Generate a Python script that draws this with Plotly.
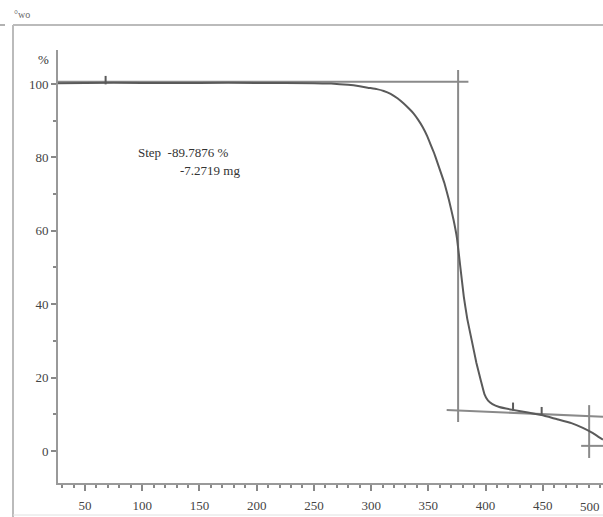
import plotly.graph_objects as go

# ---- data ----
temp_c = [26.4, 50, 100, 150, 200, 250, 265, 280, 290, 297, 305, 311, 317, 323, 328, 333,
          337, 341, 345, 349, 352, 355, 358, 361, 364, 368, 372, 375, 378, 381, 384, 388,
          392, 396, 399, 402, 406, 412, 424, 437, 449, 462, 475, 485, 493, 499, 502.6]
mass_pct = [100.2, 100.3, 100.3, 100.3, 100.3, 100.2, 100.1, 99.8, 99.4, 99.0, 98.6, 98.1,
            97.3, 96.1, 94.8, 93.3, 92.0, 90.3, 88.3, 85.8, 83.5, 81.2, 78.5, 75.8, 73.0,
            68.4, 63.0, 58.0, 50.0, 42.0, 36.0, 30.0, 24.0, 19.0, 15.5, 13.8, 12.8, 12.0,
            11.2, 10.5, 9.8, 8.7, 7.6, 6.3, 5.0, 3.8, 3.1]

# evaluation construction lines (temperature, percent)
upper_line_t = [26.4, 385]
upper_line_v = [100.6, 100.6]
step_line_t = [376, 376]
step_line_v = [103.8, 7.9]
lower_line_t = [366, 502.6]
lower_line_v = [11.2, 9.3]
end_v_t = [490.5, 490.5]
end_v_v = [12.5, -1.9]
end_h_t = [483.5, 502.6]
end_h_v = [1.4, 1.4]

# small marker ticks on the curve
mark_t = [68, 424, 449]
mark_lo = [99.9, 11.0, 9.6]
mark_hi = [102.2, 13.2, 12.0]

x_ticks = [50, 100, 150, 200, 250, 300, 350, 400, 450, 500]
y_ticks = [0, 20, 40, 60, 80, 100]
x_range = [26.4, 502.6]
y_range = [-8.72, 109.26]

step_text = "Step  -89.7876 %"
mass_text = "-7.2719 mg"

# ---- figure ----
W, H = 603, 517
L, R, T, B = 58, 0, 50, 34
pw, ph = W - L - R, H - T - B

def px(x):
    return (x - L) / pw

def py(y):
    return (H - B - y) / ph

fig = go.Figure()
curve_col = "#5a5a5a"
ref_col = "#8a8a8a"

for tx, vy in [(upper_line_t, upper_line_v), (step_line_t, step_line_v),
               (lower_line_t, lower_line_v), (end_v_t, end_v_v), (end_h_t, end_h_v)]:
    fig.add_trace(go.Scatter(x=tx, y=vy, mode="lines",
                             line=dict(color=ref_col, width=2), hoverinfo="skip"))

fig.add_trace(go.Scatter(x=temp_c, y=mass_pct, mode="lines",
                         line=dict(color=curve_col, width=2, shape="spline", smoothing=0.3)))

for t, lo, hi in zip(mark_t, mark_lo, mark_hi):
    fig.add_trace(go.Scatter(x=[t, t], y=[lo, hi], mode="lines",
                             line=dict(color=curve_col, width=2), hoverinfo="skip"))

tfont = dict(family="Liberation Serif", size=13, color="#444444")

fig.update_layout(
    width=W, height=H,
    margin=dict(l=L, r=R, t=T, b=B, pad=0),
    paper_bgcolor="white", plot_bgcolor="white",
    showlegend=False,
    font=tfont,
    xaxis=dict(range=x_range, tickvals=x_ticks[:-1], ticktext=[str(v) for v in x_ticks[:-1]],
               ticks="outside", ticklen=6, tickwidth=1.5, tickcolor="#888",
               minor=dict(dtick=10, ticks="outside", ticklen=3, tickcolor="#888", tickwidth=1.5),
               showline=True, linecolor="#999", linewidth=2, showgrid=False, zeroline=False,
               ticklabelstandoff=3, tickfont=tfont),
    yaxis=dict(range=y_range, tickvals=y_ticks, ticktext=[str(v) for v in y_ticks],
               ticks="outside", ticklen=5, tickwidth=1.5, tickcolor="#888",
               minor=dict(dtick=10, ticks="outside", ticklen=3, tickcolor="#888", tickwidth=1.5),
               showline=True, linecolor="#999", linewidth=2, showgrid=False, zeroline=False,
               tickfont=tfont),
)

# last x tick label sits at the picture's right edge
fig.add_annotation(text=str(x_ticks[-1]), x=px(602), xref="paper", y=py(506), yref="paper",
                   xanchor="right", yanchor="middle", showarrow=False, font=tfont)

# outer frame of the scanned figure
fig.add_shape(type="line", xref="paper", yref="paper", x0=px(13), x1=px(603), y0=py(25), y1=py(25),
              line=dict(color="#bbbbbb", width=2))
fig.add_shape(type="line", xref="paper", yref="paper", x0=px(13), x1=px(13), y0=py(25), y1=py(517),
              line=dict(color="#bbbbbb", width=2))
fig.add_shape(type="line", xref="paper", yref="paper", x0=px(13), x1=px(603), y0=py(515), y1=py(515),
              line=dict(color="#e0e0e0", width=1))
fig.add_shape(type="line", xref="paper", yref="paper", x0=px(0), x1=px(5), y0=py(25), y1=py(25),
              line=dict(color="#999999", width=1.5))

ann = dict(xref="paper", yref="paper", showarrow=False,
           font=dict(family="Liberation Serif", size=13, color="#333"))
fig.add_annotation(text="%", x=px(36), y=py(59), xanchor="left", yanchor="middle", **ann)
fig.add_annotation(text=step_text, x=px(136), y=py(152), xanchor="left", yanchor="middle", **ann)
fig.add_annotation(text=mass_text, x=px(178), y=py(171), xanchor="left", yanchor="middle", **ann)
fig.add_annotation(text="°wo", x=px(12), y=py(14), xanchor="left", yanchor="middle",
                   xref="paper", yref="paper", showarrow=False,
                   font=dict(family="Liberation Serif", size=10, color="#666"))

fig.write_html("out.html")
